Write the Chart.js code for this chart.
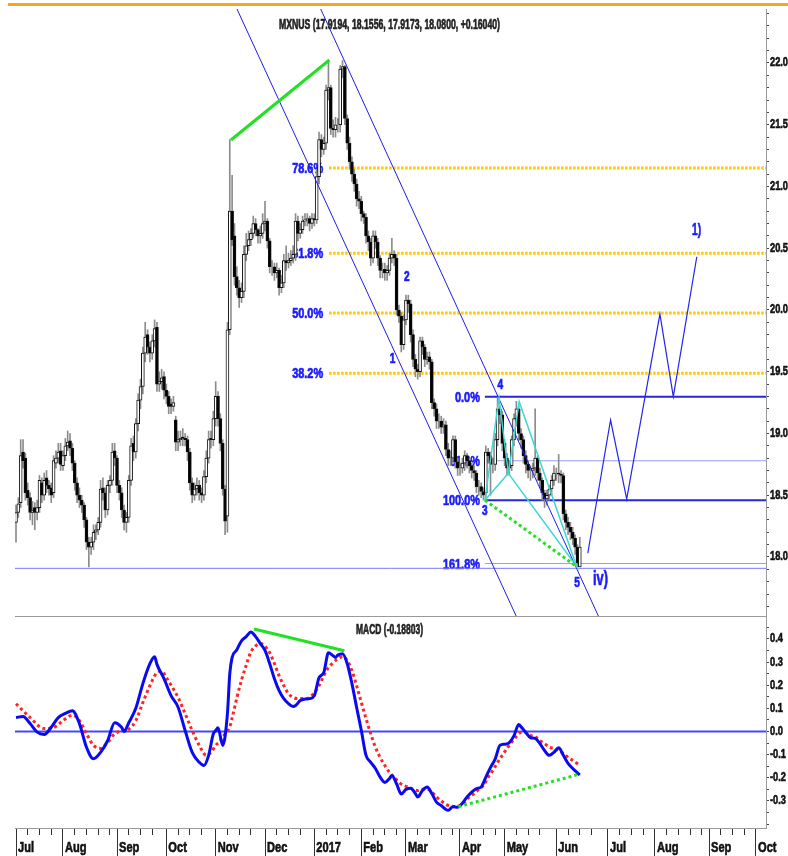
<!DOCTYPE html>
<html><head><meta charset="utf-8">
<script src="https://cdn.jsdelivr.net/npm/chart.js@4.4.1/dist/chart.umd.min.js"></script>
<style>
html,body{margin:0;padding:0;background:#fff;}
#wrap{position:relative;width:788px;height:856px;overflow:hidden;background:#fff;}
#c1{position:absolute;left:0;top:0;}
#c2{position:absolute;left:0;top:616px;}
</style></head><body>
<div id="wrap"><canvas id="c1" width="788" height="618"></canvas><canvas id="c2" width="788" height="240"></canvas></div>
<script>
// ---------- DATA ----------
const title = 'MXNUS (17.9194, 18.1556, 17.9173, 18.0800, +0.16040)';
const macdTitle = 'MACD (-0.18803)';

const opens = [
18.28,18.36,18.44,18.85,18.80,18.54,18.48,18.36,18.40,18.36,
18.40,18.60,18.50,18.64,18.58,18.56,18.52,18.76,18.80,18.86,
18.74,18.82,18.90,18.94,18.88,18.76,18.60,18.50,18.46,18.42,
18.30,18.12,18.08,18.12,18.20,18.22,18.28,18.56,18.52,18.38,
18.58,18.62,18.86,18.80,18.58,18.52,18.38,18.28,18.32,18.62,
18.92,18.85,19.08,19.27,19.38,19.65,19.80,19.70,19.65,19.75,
19.86,19.40,19.42,19.46,19.35,19.30,19.24,19.22,19.11,18.93,
18.95,18.97,18.96,18.95,18.85,18.60,18.50,18.55,18.58,18.52,
18.50,18.65,18.80,18.96,18.95,19.12,19.30,19.12,18.92,18.55,
18.33,19.84,20.80,20.60,20.27,20.18,20.10,20.15,20.45,20.52,
20.57,20.62,20.70,20.65,20.60,20.62,20.70,20.72,20.56,20.35,
20.35,20.30,20.32,20.18,20.22,20.40,20.38,20.40,20.42,20.45,
20.72,20.62,20.65,20.72,20.73,20.74,20.70,20.74,20.73,21.08,
21.38,21.30,21.35,21.78,21.80,21.47,21.46,21.50,21.50,21.95,
21.97,21.55,21.35,21.20,21.10,21.02,20.90,20.88,20.78,20.75,
20.60,20.55,20.42,20.60,20.55,20.42,20.32,20.33,20.30,20.32,
20.42,20.45,20.42,20.00,19.95,19.72,19.92,20.08,20.05,19.80,
19.60,19.52,19.50,19.75,19.70,19.60,19.62,19.58,19.25,19.20,
19.10,19.10,19.05,19.07,18.87,18.80,18.80,18.95,18.77,18.72,
18.72,18.76,18.82,18.78,18.74,18.70,18.68,18.57,18.57,18.53,
18.52,18.85,18.82,18.75,18.75,18.95,19.20,19.15,18.92,18.80,
18.72,18.74,18.95,19.12,19.20,19.00,18.95,18.82,18.75,18.70,
18.70,18.72,18.80,18.68,18.62,18.52,18.47,18.50,18.55,18.62,
18.68,18.68,18.67,18.66,18.35,18.28,18.24,18.20,18.15,18.08,17.92];

const highs = [
18.42,18.48,18.95,18.95,18.84,18.60,18.52,18.45,18.44,18.46,
18.66,18.64,18.68,18.70,18.62,18.60,18.82,18.86,18.92,18.92,
18.86,18.96,19.02,19.00,18.92,18.78,18.64,18.56,18.50,18.44,
18.32,18.16,18.16,18.26,18.26,18.32,18.62,18.64,18.56,18.62,
18.66,18.92,18.92,18.82,18.62,18.56,18.42,18.36,18.66,18.96,
18.98,19.12,19.32,19.44,19.70,19.90,19.84,19.74,19.80,19.92,
19.90,19.50,19.52,19.50,19.40,19.34,19.28,19.30,19.14,19.02,
19.02,19.04,19.00,18.98,18.88,18.64,18.60,18.64,18.62,18.56,
18.70,18.86,19.02,19.02,19.18,19.42,19.34,19.16,18.95,18.58,
19.90,21.38,21.09,20.70,20.35,20.24,20.22,20.52,20.62,20.64,
20.66,20.76,20.74,20.66,20.68,20.78,20.88,20.74,20.58,20.40,
20.38,20.38,20.34,20.28,20.45,20.52,20.46,20.48,20.52,20.78,
20.76,20.70,20.76,20.78,20.78,20.76,20.78,20.78,21.14,21.44,
21.42,21.40,21.82,22.02,21.82,21.54,21.56,21.55,21.98,22.02,
21.98,21.58,21.40,21.24,21.14,21.06,20.96,20.92,20.80,20.78,
20.64,20.58,20.64,20.64,20.58,20.44,20.38,20.38,20.36,20.46,
20.58,20.48,20.45,20.04,19.98,19.96,20.12,20.12,20.08,19.84,
19.64,19.56,19.78,19.78,19.72,19.66,19.66,19.60,19.28,19.24,
19.16,19.14,19.12,19.10,18.92,18.86,18.98,18.98,18.80,18.76,
18.80,18.86,18.84,18.80,18.76,18.74,18.70,18.62,18.60,18.56,
18.90,18.88,18.85,18.80,19.00,19.29,19.22,19.18,18.95,18.84,
18.78,18.98,19.16,19.26,19.22,19.04,18.98,18.86,18.78,18.74,
18.76,19.20,18.82,18.72,18.64,18.54,18.54,18.58,18.66,18.74,
18.72,18.83,18.70,18.68,18.38,18.32,18.28,18.24,18.18,18.10,18.16];

const lows = [
18.12,18.32,18.40,18.72,18.46,18.42,18.30,18.26,18.22,18.30,
18.36,18.44,18.46,18.52,18.50,18.44,18.48,18.72,18.76,18.70,
18.70,18.78,18.86,18.82,18.70,18.54,18.44,18.40,18.36,18.24,
18.06,17.92,18.02,18.06,18.14,18.18,18.24,18.46,18.32,18.34,
18.52,18.58,18.74,18.52,18.46,18.32,18.22,18.20,18.28,18.58,
18.78,18.80,19.02,19.20,19.32,19.58,19.64,19.58,19.60,19.70,
19.34,19.34,19.36,19.28,19.24,19.16,19.16,19.18,18.86,18.86,
18.90,18.90,18.90,18.78,18.54,18.44,18.46,18.50,18.46,18.44,
18.46,18.60,18.76,18.88,18.90,19.06,19.06,18.86,18.50,18.18,
18.20,19.80,20.52,20.20,20.12,20.02,20.06,20.10,20.40,20.48,
20.52,20.58,20.60,20.54,20.54,20.58,20.64,20.50,20.30,20.28,
20.24,20.26,20.12,20.14,20.18,20.32,20.34,20.36,20.38,20.40,
20.56,20.58,20.62,20.68,20.68,20.64,20.66,20.68,20.70,21.02,
21.24,21.26,21.30,21.70,21.42,21.40,21.40,21.44,21.44,21.88,
21.50,21.30,21.14,21.04,20.96,20.84,20.82,20.72,20.70,20.54,
20.48,20.36,20.38,20.50,20.36,20.26,20.26,20.24,20.24,20.28,
20.38,20.36,19.96,19.90,19.66,19.68,19.88,19.98,19.74,19.54,
19.46,19.44,19.46,19.64,19.54,19.56,19.52,19.20,19.14,19.04,
19.04,19.00,19.00,18.82,18.74,18.74,18.76,18.72,18.66,18.66,
18.68,18.70,18.72,18.68,18.64,18.62,18.52,18.50,18.48,18.46,
18.48,18.76,18.50,18.68,18.70,18.90,19.08,18.86,18.74,18.66,
18.66,18.70,18.90,19.06,18.94,18.88,18.76,18.68,18.64,18.62,
18.64,18.66,18.62,18.56,18.46,18.40,18.42,18.46,18.50,18.58,
18.62,18.60,18.60,18.30,18.22,18.18,18.14,18.10,18.02,17.92,17.92];

const closes = [
18.36,18.43,18.82,18.78,18.52,18.48,18.36,18.38,18.36,18.40,
18.62,18.50,18.62,18.58,18.55,18.50,18.78,18.80,18.85,18.75,
18.82,18.90,18.93,18.88,18.76,18.60,18.50,18.46,18.42,18.30,
18.12,18.08,18.12,18.20,18.22,18.28,18.55,18.52,18.38,18.58,
18.62,18.85,18.80,18.58,18.52,18.38,18.28,18.32,18.62,18.90,
18.85,19.08,19.27,19.38,19.65,19.78,19.70,19.65,19.75,19.85,
19.40,19.42,19.45,19.35,19.30,19.22,19.22,19.25,18.93,18.95,
18.96,18.96,18.95,18.85,18.60,18.50,18.55,18.58,18.52,18.50,
18.65,18.80,18.95,18.95,19.12,19.30,19.12,18.92,18.55,18.29,
19.84,20.80,20.57,20.27,20.18,20.10,20.15,20.45,20.52,20.57,
20.62,20.70,20.65,20.60,20.62,20.70,20.72,20.56,20.35,20.35,
20.30,20.32,20.18,20.22,20.40,20.38,20.40,20.42,20.45,20.72,
20.62,20.65,20.72,20.73,20.74,20.70,20.74,20.73,21.08,21.38,
21.30,21.35,21.78,21.80,21.47,21.46,21.50,21.50,21.95,21.97,
21.55,21.35,21.20,21.10,21.02,20.90,20.88,20.78,20.75,20.60,
20.55,20.42,20.60,20.55,20.42,20.32,20.33,20.30,20.32,20.42,
20.45,20.42,20.00,19.95,19.72,19.92,20.08,20.05,19.80,19.60,
19.52,19.50,19.75,19.70,19.60,19.62,19.58,19.25,19.20,19.10,
19.10,19.05,19.07,18.87,18.80,18.80,18.95,18.77,18.72,18.72,
18.76,18.82,18.78,18.74,18.70,18.68,18.57,18.57,18.53,18.50,
18.85,18.82,18.75,18.75,18.95,19.20,19.15,18.92,18.80,18.72,
18.74,18.95,19.12,19.20,19.00,18.95,18.82,18.75,18.70,18.70,
18.72,18.80,18.68,18.62,18.52,18.47,18.50,18.55,18.62,18.68,
18.68,18.67,18.66,18.35,18.28,18.24,18.20,18.15,18.08,17.95,18.08];

// MACD line and signal line, read at trading-day positions
const macdIdx = [0,3,6,9,12,15,18,21,24,27,30,33,36,39,42,45,46,48,51,54,57,59,60,63,66,69,72,75,78,80,82,84,85,86,88,90,91,92,94,96,98,100,102,104,106,108,110,112,114,116,118,119,121,123,125,127,129,131,133,135,136,137,139,141,143,145,147,149,151,153,155,157,159,160,162,164,166,168,170,171,173,175,177,179,181,183,184,186,188,190,192,194,196,198,200,202,204,206,208,210,212,214,215,217,219,221,223,225,227,229,231,233,235,237,240];
const macdVal = [0.06,0.065,0.034,-0.003,-0.013,0.018,0.06,0.078,0.09,0.034,-0.068,-0.118,-0.09,-0.04,0.038,0.017,0.0,0.038,0.1,0.207,0.293,0.323,0.29,0.228,0.155,0.105,0.004,-0.09,-0.133,-0.147,-0.103,-0.01,0.004,0.016,-0.06,0.077,0.25,0.32,0.353,0.392,0.41,0.43,0.41,0.38,0.35,0.293,0.228,0.177,0.142,0.12,0.108,0.112,0.134,0.14,0.142,0.155,0.233,0.254,0.34,0.327,0.32,0.33,0.336,0.293,0.207,0.104,0.004,-0.103,-0.133,-0.16,-0.197,-0.22,-0.203,-0.19,-0.226,-0.27,-0.25,-0.245,-0.268,-0.283,-0.255,-0.24,-0.268,-0.305,-0.32,-0.337,-0.34,-0.325,-0.327,-0.31,-0.283,-0.262,-0.247,-0.24,-0.197,-0.155,-0.118,-0.06,-0.055,-0.048,-0.018,0.03,0.02,-0.004,-0.027,-0.03,-0.052,-0.082,-0.103,-0.09,-0.07,-0.103,-0.138,-0.16,-0.188];
const sigIdx = [0,6,12,16,20,24,27,30,33,36,39,42,45,48,51,54,57,60,62,64,66,69,72,75,78,81,83,85,87,89,91,92,94,96,98,100,102,104,106,108,110,112,114,116,118,121,123,125,127,129,131,133,135,137,139,141,143,145,147,149,151,153,155,157,159,161,163,165,167,169,171,173,175,177,179,181,183,185,187,189,191,193,195,197,199,201,203,205,207,209,211,213,215,217,219,221,223,225,227,229,231,233,235,237,240];
const sigVal = [0.12,0.06,0.013,0.017,0.047,0.07,0.047,-0.01,-0.06,-0.073,-0.047,-0.01,0.003,0.01,0.047,0.125,0.198,0.254,0.26,0.233,0.2,0.147,0.077,0.004,-0.06,-0.103,-0.09,-0.06,-0.04,-0.01,0.02,0.058,0.145,0.222,0.287,0.344,0.37,0.38,0.368,0.34,0.293,0.241,0.198,0.164,0.147,0.142,0.142,0.147,0.168,0.198,0.241,0.276,0.297,0.314,0.323,0.306,0.263,0.198,0.125,0.056,-0.01,-0.068,-0.112,-0.147,-0.177,-0.197,-0.22,-0.233,-0.24,-0.25,-0.255,-0.25,-0.25,-0.262,-0.283,-0.3,-0.315,-0.322,-0.324,-0.32,-0.305,-0.283,-0.268,-0.25,-0.233,-0.197,-0.168,-0.133,-0.103,-0.073,-0.047,-0.022,-0.004,-0.004,-0.017,-0.022,-0.04,-0.052,-0.068,-0.073,-0.082,-0.095,-0.112,-0.125,-0.147];

// axis labels
const monthIdx = [0,20,43,64,85,106,127,147,166,189,208,230,252,272,295,315];
const monthLabels = ['Jul','Aug','Sep','Oct','Nov','Dec','2017','Feb','Mar','Apr','May','Jun','Jul','Aug','Sep','Oct'];
const priceTickVals = [18.0,18.5,19.0,19.5,20.0,20.5,21.0,21.5,22.0];
const priceTickLabels = ['18.0','18.5','19.0','19.5','20.0','20.5','21.0','21.5','22.0'];
const macdTickVals = [0.4,0.3,0.2,0.1,0,-0.1,-0.2,-0.3];
const macdTickLabels = ['0.4','0.3','0.2','0.1','0.0','-0.1','-0.2','-0.3'];

// drawn studies (in data units: trading-day index, price)
const fibLevels = [21.15,20.46,19.975,19.487];
const fibNames = ['78.6%','61.8%','50.0%','38.2%'];
const fibStart = 133.3;
const fib2Levels = [19.298,18.779,18.46,17.947];
const fib2Names = ['0.0%','61.8%','100.0%','161.8%'];
const fib2Start = 199.6;
const lowLevel = 17.908;
const greenTop = [{x:91.5,y:21.376},{x:133.4,y:22.024}];
const channelA = [{x:94.07,y:22.437},{x:212.9,y:17.522}];
const channelB = [{x:129.7,y:22.437},{x:247.9,y:17.522}];
const cyanA = [{x:199.6,y:18.46},{x:205.6,y:19.287},{x:209.6,y:18.677},{x:199.6,y:18.46}];
const cyanB = [{x:209.6,y:18.677},{x:214.2,y:19.257},{x:238.7,y:17.921},{x:209.6,y:18.677}];
const greenDotted = [{x:199.6,y:18.46},{x:238.7,y:17.921}];
const zigzag = [{x:243.4,y:18.03},{x:253.1,y:19.109},{x:259.96,y:18.469},{x:274.1,y:19.967},{x:279.8,y:19.298},{x:289.8,y:20.431}];
const waveLabels = [
  {t:'1',x:160.3,y:19.603},{t:'2',x:166.4,y:20.267},{t:'3',x:199.6,y:18.372},
  {t:'4',x:206.2,y:19.392},{t:'5',x:238.8,y:17.789},{t:'iv)',x:248.8,y:17.818},{t:'1)',x:289.7,y:20.639}];
const macdGreen = [{x:101.3,y:0.443},{x:139.75,y:0.349}];
const macdGreenDotted = [{x:188.3,y:-0.325},{x:240.1,y:-0.184}];

// ---------- STYLE ----------
const FONT = "'Liberation Sans', Arial, sans-serif";
const X_MIN = -0.426, X_MAX = 319.26;
const BLUE_TXT = '#1a1aff';
const waveStyle = {'1':[14,0],'2':[14,0],'3':[14,0],'4':[14,0],'5':[14,0],'iv)':[20,15],'1)':[16,9]};
const fibLabelW = [31,31,31,31];
const fib2LabelW = [25,30,37,37];

// condensed text (the reference uses a narrow bold face)
function condense(canvas) {
  const ctx = canvas.getContext('2d');
  const wrap = orig => function(t, x, y, mw) {
    const sx = ctx.__sx || 0.74;
    ctx.save(); ctx.translate(x, y); ctx.scale(sx, 1);
    if (mw !== undefined && mw !== null) orig(t, 0, 0, mw / sx); else orig(t, 0, 0);
    ctx.restore();
  };
  ctx.fillText = wrap(ctx.fillText.bind(ctx));
  ctx.strokeText = wrap(ctx.strokeText.bind(ctx));
}
function drawText(ctx, text, x, y, size, align, targetW, color) {
  ctx.save();
  ctx.font = 'bold ' + size + 'px ' + FONT;
  ctx.fillStyle = color; ctx.strokeStyle = color; ctx.lineWidth = 0.7; ctx.lineJoin = 'round';
  ctx.textAlign = align; ctx.textBaseline = 'middle';
  const w = ctx.measureText(text).width;
  ctx.__sx = targetW ? targetW / w : 0.72;
  ctx.strokeText(text, x, y);
  ctx.fillText(text, x, y);
  ctx.__sx = null;
  ctx.restore();
}
condense(document.getElementById('c1'));
condense(document.getElementById('c2'));

const days = closes.map((c, i) => i);
function lineDs(data, color, width, order, dash) {
  return {type:'line', data, borderColor:color, borderWidth:width, borderDash:dash||[], pointRadius:0,
          fill:false, tension:0, order, borderCapStyle:'butt', xAxisID:'x', yAxisID:'y'};
}

const ds1 = [];
fibLevels.forEach(l => ds1.push(lineDs([{x:fibStart,y:l},{x:X_MAX,y:l}], '#ffc800', 3, 10, [2.5,1.5])));
const fib2Colors = ['#2626e0','#9c9cf2','#2626e0','#9c9cf2'];
const fib2Widths = [2,1.2,2,1.2];
fib2Levels.forEach((l,i) => ds1.push(lineDs([{x:fib2Start,y:l},{x:X_MAX,y:l}], fib2Colors[i], fib2Widths[i], 9)));
ds1.push(lineDs([{x:X_MIN,y:lowLevel},{x:X_MAX,y:lowLevel}], '#7878ff', 1, 9));
ds1.push({type:'bar', data: days.map(i => ({x:i, y:[lows[i], highs[i]]})), backgroundColor:'#8c8c8c',
  borderWidth:0, barThickness:1, grouped:false, order:7, xAxisID:'x', yAxisID:'y'});
ds1.push({type:'bar', data: days.map(i => ({x:i, y:[opens[i], closes[i]]})),
  backgroundColor: c => (closes[c.dataIndex] >= opens[c.dataIndex] ? '#ffffff' : '#000000'),
  borderColor:'#111111', borderWidth:1, borderSkipped:false, barThickness:3, grouped:false, order:6, xAxisID:'x', yAxisID:'y'});
ds1.push(lineDs(channelA, '#1c1cf0', 1, 3));
ds1.push(lineDs(channelB, '#1c1cf0', 1, 3));
ds1.push(lineDs(cyanA, '#3fd6d6', 1.5, 2));
ds1.push(lineDs(cyanB, '#3fd6d6', 1.5, 2));
ds1.push(lineDs(greenDotted, '#22e022', 3, 1, [3,3]));
ds1.push(lineDs(greenTop, '#22e022', 3, 1));
ds1.push(lineDs(zigzag, '#2424ee', 1.2, 1));

const plugin1 = {
  id:'texts1',
  beforeDatasetsDraw(chart) {
    const {ctx, scales:{x, y}} = chart;
    fibLevels.forEach((l,i) => drawText(ctx, fibNames[i], x.getPixelForValue(fibStart) - 6, y.getPixelForValue(l) + 1, 15, 'right', fibLabelW[i], BLUE_TXT));
    fib2Levels.forEach((l,i) => drawText(ctx, fib2Names[i], x.getPixelForValue(fib2Start) - 5, y.getPixelForValue(l) + 1, 15, 'right', fib2LabelW[i], BLUE_TXT));
  },
  afterDatasetsDraw(chart) {
    const {ctx, scales:{x, y}} = chart;
    waveLabels.forEach(w => { const st = waveStyle[w.t]; drawText(ctx, w.t, x.getPixelForValue(w.x), y.getPixelForValue(w.y), st[0], 'center', st[1], BLUE_TXT); });
    drawText(ctx, title, 279, 25, 14, 'left', 221, '#222');
    ctx.save(); ctx.fillStyle = '#f5a623'; ctx.fillRect(8, 3, 780, 3); ctx.restore();
  }
};

const fmtTick = (vals, labs) => v => { const j = vals.findIndex(p => Math.abs(p - v) < 1e-6); return j >= 0 ? labs[j] : ''; };
const tickFont = {family: FONT, size: 12.5, weight: 'bold'};
const noPadV = s => { s.paddingTop = 0; s.paddingBottom = 0; };
const noPadH = s => { s.paddingLeft = 0; s.paddingRight = 0; };

new Chart(document.getElementById('c1'), {
  type:'bar',
  data:{datasets: ds1},
  options:{
    responsive:false, animation:false, events:[],
    layout:{padding:{left:15,right:0,top:9,bottom:2}, autoPadding:false},
    plugins:{legend:{display:false}, tooltip:{enabled:false}},
    scales:{
      x:{type:'linear', min:X_MIN, max:X_MAX, offset:false, bounds:'data',
         grid:{display:true, drawOnChartArea:false, drawTicks:false, offset:false},
         border:{display:true, color:'#9a9a9a', width:1},
         ticks:{display:false},
         afterFit: s => { s.height = 0; noPadH(s); }},
      y:{type:'linear', position:'right', min:17.522, max:22.437, beginAtZero:false, bounds:'data',
         grid:{drawOnChartArea:false, drawTicks:true, tickLength:3, tickColor:'#444'},
         border:{display:true, color:'#9a9a9a'},
         afterBuildTicks: s => { const t = []; for (let k = 176; k <= 224; k++) t.push({value:k/10}); s.ticks = t; },
         ticks:{autoSkip:false, padding:1, color:'#111', font:tickFont, textStrokeColor:'#111', textStrokeWidth:0.6,
                callback: fmtTick(priceTickVals, priceTickLabels)},
         afterFit: s => { s.width = 22; noPadV(s); }}
    }
  },
  plugins:[plugin1]
});

// MACD panel
const minorTicks = [];
monthIdx.forEach((m, k) => { const nxt = k + 1 < monthIdx.length ? monthIdx[k+1] : X_MAX; for (let d = m; d < nxt - 2; d += 5) minorTicks.push(d); });

const ds2 = [
  lineDs([{x:X_MIN,y:0},{x:X_MAX,y:0}], '#4646ff', 2, 5),
  Object.assign(lineDs(sigIdx.map((v,i) => ({x:v, y:sigVal[i]})), '#ff2424', 3, 3, [3,3]), {cubicInterpolationMode:'monotone'}),
  Object.assign(lineDs(macdIdx.map((v,i) => ({x:v, y:macdVal[i]})), '#0a0af0', 3, 2), {cubicInterpolationMode:'monotone'}),
  lineDs(macdGreen, '#22e022', 3, 1),
  lineDs(macdGreenDotted, '#22e022', 3, 1, [3,3])
];

const plugin2 = {
  id:'texts2',
  afterDatasetsDraw(chart) {
    drawText(chart.ctx, macdTitle, 356, 14.5, 14, 'left', 67, '#222');
  }
};

new Chart(document.getElementById('c2'), {
  type:'line',
  data:{datasets: ds2},
  options:{
    responsive:false, animation:false, events:[],
    layout:{padding:{left:15,right:0,top:0,bottom:0}, autoPadding:false},
    plugins:{legend:{display:false}, tooltip:{enabled:false}},
    scales:{
      x:{type:'linear', position:'bottom', weight:0, min:X_MIN, max:X_MAX, offset:false, bounds:'data',
         afterBuildTicks: s => { s.ticks = minorTicks.map(v => ({value:v})); },
         grid:{display:true, drawOnChartArea:false, drawTicks:true, tickLength:7, tickColor:'#333', offset:false},
         border:{display:true, color:'#9a9a9a'},
         ticks:{display:false, autoSkip:false},
         afterFit: s => { s.height = 7; noPadH(s); }},
      xm:{type:'linear', axis:'x', position:'bottom', weight:1, min:X_MIN, max:X_MAX, offset:false, bounds:'data',
         afterBuildTicks: s => { s.ticks = monthIdx.map(v => ({value:v})); },
         grid:{display:true, drawOnChartArea:false, drawTicks:true, tickLength:21, tickColor:'#333', offset:false},
         border:{display:false},
         ticks:{autoSkip:false, align:'start', labelOffset:2, padding:-17.5, maxRotation:0, minRotation:0, color:'#111',
                textStrokeColor:'#111', textStrokeWidth:0.6,
                font:{family:FONT, size:15, weight:'bold'},
                callback: v => { const j = monthIdx.indexOf(v); return j >= 0 ? monthLabels[j] : ''; }},
         afterFit: s => { s.height = 21; noPadH(s); }},
      y:{type:'linear', position:'right', min:-0.417, max:0.499, beginAtZero:false, bounds:'data',
         grid:{drawOnChartArea:false, drawTicks:true, tickLength:3, tickColor:'#444'},
         border:{display:true, color:'#9a9a9a'},
         afterBuildTicks: s => { const t = []; for (let k = -8; k <= 9; k++) t.push({value:k*0.05}); s.ticks = t; },
         ticks:{autoSkip:false, padding:1, color:'#111', font:tickFont, textStrokeColor:'#111', textStrokeWidth:0.6,
                callback: fmtTick(macdTickVals, macdTickLabels)},
         afterFit: s => { s.width = 22; noPadV(s); }}
    }
  },
  plugins:[plugin2]
});
</script>
</body></html>
